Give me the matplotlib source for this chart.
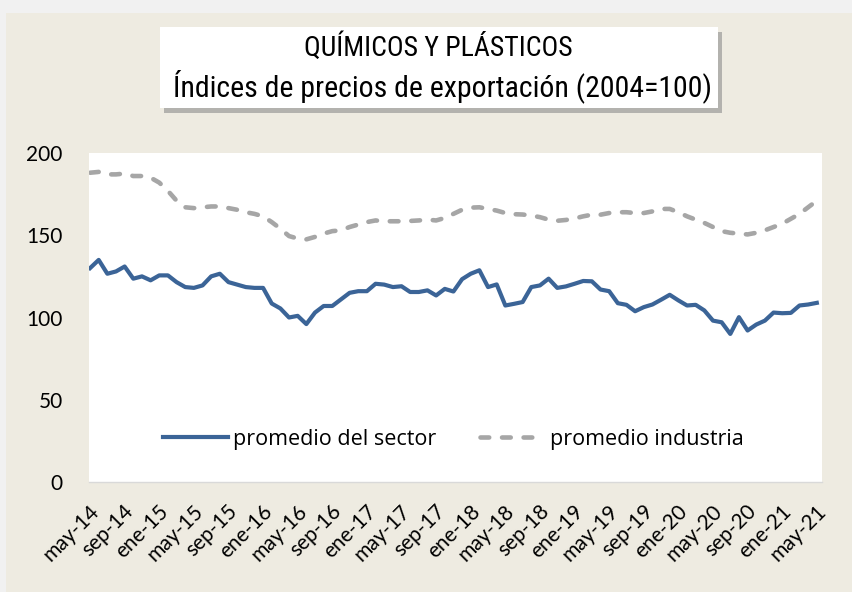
"""
Quimicos y plasticos: indices de precios de exportacion (2004=100)
plot.py
"""

import matplotlib
matplotlib.use("Agg")
import matplotlib.pyplot as plt
from matplotlib import font_manager
from matplotlib.patches import Rectangle
from matplotlib.transforms import ScaledTranslation

# monthly values, may-14 .. may-21
sector = [130, 135, 126.6, 128, 131, 123.6, 125, 122.6, 125.6, 125.6,
          121.5, 118.5, 118, 119.5, 125, 126.6, 121.5, 120, 118.5, 118,
          118, 108.5, 105.5, 100, 101, 96, 103, 107, 107, 111,
          115, 116, 116, 120.5, 120, 118.5, 119, 115.5, 115.5, 116.5,
          113.4, 117.4, 115.8, 123.3, 126.6, 128.7, 118.5, 120.1, 107.3, 108.3,
          109.4, 118.5, 119.5, 123.6, 118, 118.9, 120.5, 122.2, 122, 117,
          116, 108.7, 107.7, 103.8, 106.3, 107.9, 110.8, 113.8, 110.4, 107.3,
          107.7, 104.3, 98.1, 97.1, 90, 100.2, 92.1, 95.7, 98.1, 103,
          102.6, 102.8, 107.3, 107.9, 108.9]

industria = [188, 188.5, 187, 187, 187.5, 186, 186, 185, 182, 177,
             171, 167, 166.5, 167, 167.5, 167.5, 166.5, 165.5, 164, 163,
             161.5, 158, 154, 149.5, 148, 147.5, 149, 151, 152.5, 153,
             155, 156.5, 158, 159, 158.5, 158.5, 158.5, 158.7, 159, 159.5,
             159, 160.5, 163, 165.5, 166.8, 167, 166, 165, 163.5, 162.8,
             162.6, 162, 161, 159.5, 158.8, 159.3, 160.2, 161.5, 162.5, 162.5,
             163.5, 164, 164, 163.5, 163.5, 164.5, 166, 166, 164, 161.5,
             159.5, 157.5, 155, 152.5, 151.5, 151, 150.5, 151.5, 153, 155,
             157, 160, 163, 167, 171]

tick_labels = ['may-14', 'sep-14', 'ene-15', 'may-15', 'sep-15', 'ene-16',
               'may-16', 'sep-16', 'ene-17', 'may-17', 'sep-17', 'ene-18',
               'may-18', 'sep-18', 'ene-19', 'may-19', 'sep-19', 'ene-20',
               'may-20', 'sep-20', 'ene-21', 'may-21']

y_ticks = [0, 50, 100, 150, 200]

BLUE = '#3B6497'
GREY = '#A6A6A6'
BEIGE = '#EEEBE1'


def pick_font(wanted, fallback):
    """first installed family of wanted, else fallback"""
    names = {f.name for f in font_manager.fontManager.ttflist}
    for w in wanted:
        if w in names:
            return w
    return fallback


def main():
    body_font = pick_font(['Lato'], 'DejaVu Sans')
    legend_font = pick_font(['Open Sans', 'Lato'], 'DejaVu Sans')
    title_font = pick_font(['Liberation Sans Narrow', 'Roboto Condensed'], 'Liberation Sans')

    fig = plt.figure(figsize=(8.52, 5.92), dpi=100, facecolor=BEIGE)
    # light strips at top and left of the screenshot
    fig.patches.append(Rectangle((0, 1 - 13 / 592), 1, 13 / 592, transform=fig.transFigure,
                                 facecolor='#F1F1F1', edgecolor='none', zorder=0))
    fig.patches.append(Rectangle((0, 0), 6 / 852, 1, transform=fig.transFigure,
                                 facecolor='#F1F1F1', edgecolor='none', zorder=0))

    ax = fig.add_axes([89 / 852, 110 / 592, 733 / 852, 329 / 592])
    ax.set_facecolor('white')

    x = list(range(len(sector)))
    ax.plot(x, sector, color=BLUE, lw=3.0, solid_joinstyle='round',
            label='promedio del sector')
    ax.plot(x, industria, color=GREY, lw=3.3, linestyle=(0, (1.9, 2.8)),
            dash_capstyle='round', label='promedio industria')

    ax.set_xlim(-0.12, 84.6)
    ax.set_ylim(0, 200)
    ax.set_yticks(y_ticks)
    ax.set_yticklabels([str(v) for v in y_ticks], fontsize=15, family=body_font)
    ax.set_xticks(range(0, len(sector), 4))
    ax.set_xticklabels(tick_labels, fontsize=15, family=body_font, rotation=45,
                       ha='right', va='center', rotation_mode='anchor')
    ax.tick_params(axis='y', length=0, pad=19)
    ax.tick_params(axis='x', length=0, pad=19)
    shift = ScaledTranslation(6 / 100, 0, fig.dpi_scale_trans)
    for lab in ax.get_xticklabels():
        lab.set_transform(lab.get_transform() + shift)

    for s in ['top', 'left', 'right']:
        ax.spines[s].set_visible(False)
    ax.spines['bottom'].set_color('#D9D9D9')
    ax.spines['bottom'].set_linewidth(1)

    ax.legend(loc='center', bbox_to_anchor=(0.497, 0.13), ncol=2, frameon=False,
              prop={'family': legend_font, 'size': 15.5}, handlelength=3.0,
              handletextpad=0.25, columnspacing=2.0)

    # title box with shadow
    bx, by, bw, bh = 160 / 852, 1 - 108 / 592, 558 / 852, 81 / 592
    fig.patches.append(Rectangle((bx + 4 / 852, by - 5 / 592), bw, bh, transform=fig.transFigure,
                                 facecolor='#8C8C8C', edgecolor='none', alpha=0.6, zorder=1))
    fig.patches.append(Rectangle((bx, by), bw, bh, transform=fig.transFigure,
                                 facecolor='white', edgecolor='none', zorder=2))
    fig.text(438 / 852, 1 - 48 / 592, 'QUÍMICOS Y PLÁSTICOS', ha='center', va='center',
             fontsize=20, family=title_font, color='black', zorder=3)
    fig.text(442 / 852, 1 - 86 / 592, 'Índices de precios de exportación (2004=100)',
             ha='center', va='center', fontsize=21.5, family=title_font, color='black', zorder=3)

    fig.savefig('out.png', dpi=100, facecolor=fig.get_facecolor())


if __name__ == '__main__':
    main()
